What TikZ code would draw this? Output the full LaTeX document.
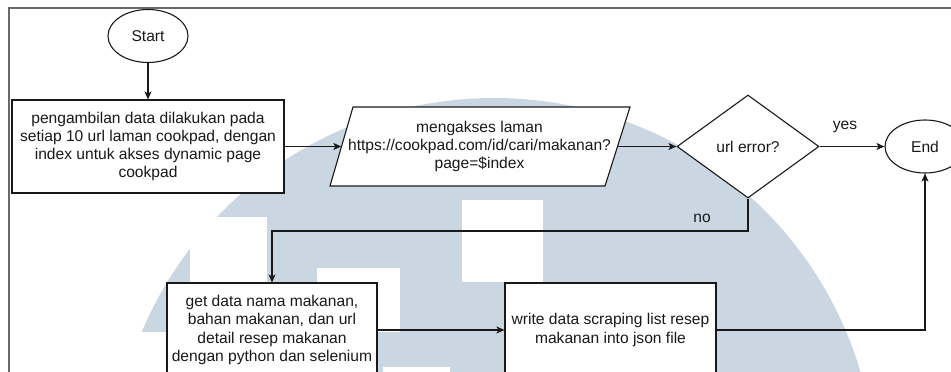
\documentclass[tikz,border=0pt]{standalone}
\usepackage{fontspec}
\setmainfont{Liberation Sans}
\usetikzlibrary{shapes.geometric,arrows.meta}
\definecolor{wm}{RGB}{203,214,227}
\definecolor{frm}{RGB}{105,105,105}
\definecolor{ink}{RGB}{25,25,25}
\begin{document}
\begin{tikzpicture}[x=1pt,y=-1pt,
  txt/.style={font=\fontsize{15.6}{18.3}\selectfont, text=ink, align=center},
  base/.style={txt, draw=ink, line width=1.1pt, fill=white, inner sep=0pt},
  proc/.style={base, rectangle},
  term/.style={base, ellipse, minimum width=80pt, minimum height=53pt},
  dec/.style={base, diamond, minimum width=142pt, minimum height=103pt},
  conn/.style={draw=ink, line width=1.1pt, -{Stealth[length=8pt,width=7pt,inset=2pt]}},
  frame/.style={draw=frm, line width=1.6pt}]
\useasboundingbox (0,0) rectangle (951,372);
\clip (0,0) rectangle (951,372);
% watermark
\fill[wm] (494,480) circle (382pt);
\fill[white] (190,217) rectangle (267,372);
\fill[white] (90,332) rectangle (190,372);
\fill[white] (317,268) rectangle (400,332);
\fill[white] (462,200) rectangle (543,282);
\fill[white] (383,367) rectangle (450,372);
% frame
\draw[frame] (9,372) -- (9,8) -- (951,8);
% nodes
\node[term] (start) at (148,36) {Start};
\node[proc, minimum width=272pt, minimum height=93pt] (box1) at (148,146.5)
  {pengambilan data dilakukan pada\\setiap 10 url laman cookpad, dengan\\index untuk akses dynamic page\\cookpad};
\draw[draw=ink, line width=1.1pt, fill=white] (353,107) -- (630,107) -- (605,186) -- (330,186) -- cycle;
\node[txt, minimum width=276pt, minimum height=79pt, inner sep=0pt] (para) at (479.5,146.5)
  {mengakses laman\\https://cookpad.com/id/cari/makanan?\\page=\$index};
\node[dec] (dec) at (748,146.5) {url error?};
\node[term] (endn) at (925,146.5) {End};
\node[proc, minimum width=210pt, minimum height=94pt] (box2) at (272,330)
  {get data nama makanan,\\bahan makanan, dan url\\detail resep makanan\\dengan python dan selenium};
\node[proc, minimum width=211pt, minimum height=94pt] (box3) at (610.5,330)
  {write data scraping list resep\\makanan into json file};
\coordinate (nobend) at (748,231);
% connectors
\draw[conn] (start) -- (box1);
\draw[conn] (box1.east) -- (para.west);
\draw[conn] (para.east) -- (dec.west);
\draw[conn] (dec.east) -- (endn.west);
\draw[conn] (dec.south) -- (nobend) -| (box2.north);
\draw[conn] (box2.east) -- (box3.west);
\draw[conn] (box3.east) -| (endn.south);
% labels
\node[txt] (yes) at (845,127) {yes};
\node[txt] (no) at (702,218) {no};
\end{tikzpicture}
\end{document}
